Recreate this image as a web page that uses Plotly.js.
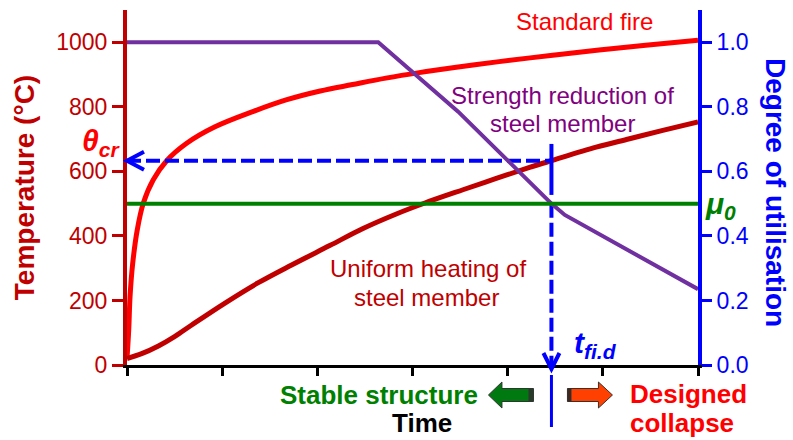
<!DOCTYPE html>
<html>
<head>
<meta charset="utf-8">
<script src="https://cdn.plot.ly/plotly-3.0.1.min.js"></script>
<style>html,body{margin:0;padding:0;background:#fff;}#chart{width:793px;height:440px;}</style>
</head>
<body>
<div id="chart"></div>
<script>
// ---- data ----
const timeTicks = [0, 1, 2, 3, 4, 5, 6];
const tempTicks = [0, 200, 400, 600, 800, 1000];
const utilTicks = [0, 0.2, 0.4, 0.6, 0.8, 1.0];

// Standard fire curve (time units, °C)
const fireTime = [0, 0.018, 0.032, 0.06, 0.108, 0.171, 0.276, 0.417, 0.627, 0.925, 1.33, 1.68, 2.03, 2.37, 2.72, 3.07, 3.5, 3.91, 4.45, 4.96, 5.45, 6.0];
const fireTemp = [20, 108, 212, 315, 419, 501, 574, 633, 687, 738, 786, 822, 849, 869, 889, 906, 924, 940, 959, 976, 991, 1006];

// Uniform heating of steel member (°C)
const steelTime = [0, 0.154, 0.33, 0.5, 0.68, 1.03, 1.38, 1.73, 2.13, 2.48, 2.83, 3.13, 3.53, 3.88, 4.23, 4.46, 4.93, 5.28, 5.63, 6.0];
const steelTemp = [20, 35, 59, 88, 124, 192, 255, 310, 370, 423, 468, 502, 543, 578, 612, 633, 675, 701, 727, 753];

// Strength reduction of steel member (degree of utilisation axis)
const strengthTime = [0, 2.64, 3.48, 4.46, 4.6, 6.0];
const strengthUtil = [1.0, 1.0, 0.785, 0.5, 0.465, 0.235];

// Key values
const mu0 = 0.5;          // degree of utilisation
const thetaCr = 633;      // critical temperature (°C)
const tfi = 4.46;         // fire resistance time
const tfiSolidT = [685, 527]; // solid marker segment on the t_fi.d line (°C)

// ---- layout geometry ----
const W = 793, Hh = 440;
const M = {l: 127, r: 95, t: 10, b: 75};
const PW = W - M.l - M.r, PH = Hh - M.t - M.b;
const xRange = [0, 6], yRange = [0, 1100], y2Range = [0, 1.1];
const xp = v => (v - xRange[0]) / (xRange[1] - xRange[0]);   // data x -> paper
const yp = v => (v - yRange[0]) / (yRange[1] - yRange[0]);   // data T -> paper
const dx = px => px / PW, dy = px => px / PH;                 // pixel offsets -> paper
const P = (x, y) => ({x: (x - M.l) / PW, y: (Hh - M.b - y) / PH}); // pixel -> paper

const FONT = 'Liberation Sans, Arial, sans-serif';
const DRED = '#C00000', RED = '#FF0000', PURP = '#7030A0', GREEN = '#008000', BLUE = '#0000FF';

const traces = [
  {x: fireTime, y: fireTemp, mode: 'lines', line: {color: RED, width: 5, shape: 'spline', smoothing: 1}, hoverinfo: 'skip', name: 'Standard fire'},
  {x: steelTime, y: steelTemp, mode: 'lines', line: {color: DRED, width: 5, shape: 'spline', smoothing: 1}, hoverinfo: 'skip', name: 'Uniform heating'},
  {x: strengthTime, y: strengthUtil, yaxis: 'y2', mode: 'lines', line: {color: PURP, width: 4}, hoverinfo: 'skip', name: 'Strength reduction'},
  {x: [xRange[0], xRange[1]], y: [mu0, mu0], yaxis: 'y2', mode: 'lines', line: {color: GREEN, width: 4}, hoverinfo: 'skip', name: 'mu0'},
  {x: [xRange[0], tfi], y: [thetaCr, thetaCr], mode: 'lines', line: {color: BLUE, width: 4, dash: '14px,5px'}, hoverinfo: 'skip', name: 'theta_cr'},
  {x: [tfi, tfi], y: [mu0 * 1000, 0], mode: 'lines', line: {color: BLUE, width: 4, dash: '14px,5px'}, hoverinfo: 'skip', name: 't_fi,d'},
  {x: [tfi, tfi], y: tfiSolidT, mode: 'lines', line: {color: BLUE, width: 4}, hoverinfo: 'skip', name: 'marker'}
];

function ann(text, pos, size, color, extra) {
  return Object.assign({text: text, xref: 'paper', yref: 'paper', x: pos.x, y: pos.y,
    showarrow: false, xanchor: 'center', yanchor: 'middle',
    font: {family: FONT, size: size, color: color}}, extra || {});
}

const annotations = [
  ann('Standard fire', P(584, 22), 24, RED),
  ann('Strength reduction of', P(562.5, 95), 24, '#800080'),
  ann('steel member', P(562.5, 123), 24, '#800080'),
  ann('Uniform heating of', P(427.5, 268), 24, DRED),
  ann('steel member', P(426.5, 297), 24, DRED),
  ann('<b><i>θ<sub>cr</sub></i></b>', P(101, 143), 30, RED),
  ann('<b><i>μ<sub>0</sub></i></b>', P(720, 206), 30, GREEN),
  ann('<b><i>t<sub>fi.d</sub></i></b>', P(595, 344), 30, BLUE),
  ann('<b>Stable structure</b>', P(379, 395), 26, GREEN),
  ann('<b>Time</b>', P(422, 423), 26, '#000000'),
  ann('<b>Designed</b>', P(628, 394), 26, RED, {xanchor: 'left'}),
  ann('<b>collapse</b>', P(628, 423), 26, RED, {xanchor: 'left'}),
  ann('<b>Degree of utilisation</b>', P(776, 192), 28, BLUE, {textangle: 90})
];

// arrowheads and bottom decorations
const tipL = {x: xp(0), y: yp(thetaCr)};
const tipD = {x: xp(tfi), y: yp(0) - dy(4)};
const shapes = [
  {type: 'path', xref: 'paper', yref: 'paper',
   path: `M ${tipL.x + dx(17)},${tipL.y + dy(9)} L ${tipL.x},${tipL.y} L ${tipL.x + dx(17)},${tipL.y - dy(9)}`,
   line: {color: BLUE, width: 4}},
  {type: 'path', xref: 'paper', yref: 'paper',
   path: `M ${tipD.x - dx(8)},${tipD.y + dy(16)} L ${tipD.x},${tipD.y} L ${tipD.x + dx(8)},${tipD.y + dy(16)}`,
   line: {color: BLUE, width: 4}},
  {type: 'line', xref: 'paper', yref: 'paper', x0: xp(tfi), x1: xp(tfi), y0: -dy(10), y1: -dy(62),
   line: {color: BLUE, width: 3}}
];
// block arrows (pixel geometry relative to the t_fi.d line)
const cx = M.l + xp(tfi) * PW, cyA = 395;
function blockArrow(tail, headBase, tip, fill) {
  const pts = [[tip, cyA], [headBase, cyA - 13], [headBase, cyA - 6.5], [tail, cyA - 6.5], [tail, cyA + 6.5], [headBase, cyA + 6.5], [headBase, cyA + 13]];
  return {type: 'path', xref: 'paper', yref: 'paper',
    path: 'M ' + pts.map(p => { const q = P(p[0], p[1]); return q.x + ',' + q.y; }).join(' L ') + ' Z',
    fillcolor: fill, line: {color: '#333333', width: 1}};
}
function strip(x0, x1, fill) {
  const a = P(x0, cyA - 6.5), b = P(x1, cyA + 6.5);
  return {type: 'rect', xref: 'paper', yref: 'paper', x0: a.x, x1: b.x, y0: a.y, y1: b.y, fillcolor: fill, line: {width: 0}};
}
shapes.push(blockArrow(cx - 18, cx - 49.5, cx - 63, '#007A10'));
shapes.push(strip(cx - 23, cx - 18, '#2a3a2a'));
shapes.push(blockArrow(cx + 16, cx + 47, cx + 61, '#FF4000'));
shapes.push(strip(cx + 16, cx + 20, '#3a2a22'));

const layout = {
  width: W, height: Hh,
  margin: {l: M.l, r: M.r, t: M.t, b: M.b, pad: 0},
  paper_bgcolor: '#fff', plot_bgcolor: '#fff',
  showlegend: false,
  font: {family: FONT},
  xaxis: {range: xRange, tickvals: timeTicks, showticklabels: false, ticks: 'outside', ticklen: 8, tickwidth: 3,
          tickcolor: '#000', showline: true, linecolor: '#000', linewidth: 3, showgrid: false, zeroline: false, fixedrange: true},
  yaxis: {range: yRange, tickvals: tempTicks, ticks: 'outside', ticklen: 11, tickwidth: 3, tickcolor: DRED,
          showline: true, linecolor: DRED, linewidth: 4, showgrid: false, zeroline: false,
          tickfont: {family: FONT, size: 23, color: DRED},
          title: {text: '<b>Temperature (°C)</b>', font: {family: FONT, size: 28, color: DRED}, standoff: 14}},
  yaxis2: {range: y2Range, overlaying: 'y', side: 'right', tickvals: utilTicks, tickformat: '.1f', ticks: 'outside',
           ticklen: 10, tickwidth: 3, tickcolor: BLUE, showline: true, linecolor: BLUE, linewidth: 4,
           showgrid: false, zeroline: false, tickfont: {family: FONT, size: 23, color: BLUE}},
  annotations: annotations,
  shapes: shapes
};

Plotly.newPlot('chart', traces, layout, {displayModeBar: false, staticPlot: true});
</script>
</body>
</html>
